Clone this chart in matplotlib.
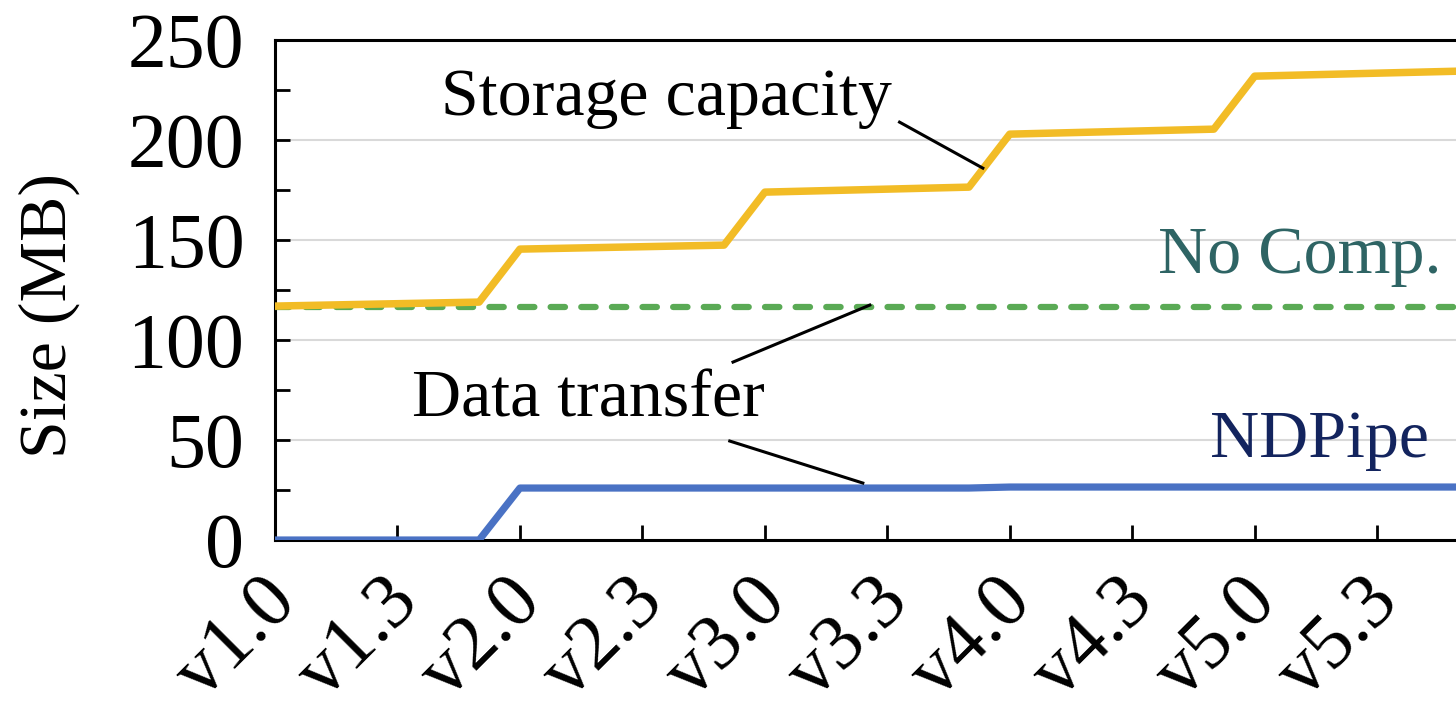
import numpy as np
import matplotlib
matplotlib.use("Agg")
import matplotlib.pyplot as plt
import matplotlib.transforms as mtransforms
from matplotlib.ticker import MultipleLocator

plt.rcParams['font.family'] = ['Liberation Serif', 'DejaVu Serif']

# versions v1.0 .. v5.5
versions = ['v%d.%d' % (m, n) for m in range(1, 6) for n in range(6)]

storage = [117, 117.4, 117.8, 118.2, 118.6, 119,
           145.5, 145.9, 146.3, 146.7, 147.1, 147.5,
           174, 174.5, 175, 175.5, 176, 176.5,
           203, 203.5, 204, 204.5, 205, 205.5,
           232, 232.5, 233, 233.5, 234, 234.5]
no_comp = [116.5] * 30
ndpipe = [0, 0, 0, 0, 0, 0,
          26, 26, 26, 26, 26, 26,
          26, 26, 26, 26, 26, 26,
          26.5, 26.5, 26.5, 26.5, 26.5, 26.5,
          26.5, 26.5, 26.5, 26.5, 26.5, 26.5]

x = np.arange(len(versions))
FS = 49
TFS = 56

fig = plt.figure(figsize=(14.56, 7.06), dpi=100)
ax = fig.add_axes([0.1889, 0.2351, 0.813, 0.708])

ax.plot(x, no_comp, color='#5AAA55', lw=4.5, ls=(0, (2.3, 2.6)), dash_capstyle='round', zorder=3)
ax.plot(x, storage, color='#F2BC26', lw=5.4, zorder=4)
ax.plot(x, ndpipe, color='#4A72C4', lw=5.2, zorder=4)

ax.set_xlim(0, 29)
ax.set_ylim(0, 250)
ax.yaxis.set_major_locator(MultipleLocator(50))
ax.yaxis.set_minor_locator(MultipleLocator(25))
ax.grid(axis='y', which='major', color='#D9D9D9', lw=1.5, zorder=0)

ax.set_xticks(x[::3])
ax.set_xticklabels(versions[::3], rotation=45, ha='right', va='top', rotation_mode='anchor')

ax.tick_params(axis='both', which='both', direction='in', length=11, width=2, labelsize=TFS)
ax.tick_params(axis='y', pad=22)
ax.tick_params(axis='x', pad=22)
for s in ax.spines.values():
    s.set_linewidth(2.2)

# nudge the rotated version labels to the left
shift = mtransforms.ScaledTranslation(-0.15, 0.05, fig.dpi_scale_trans)
for lab in ax.get_xticklabels():
    lab.set_transform(lab.get_transform() + shift)

ax.set_ylabel('Size (MB)', fontsize=FS)
ax.yaxis.set_label_coords(-0.165, 0.45)

# annotations
ax.text(9.58, 221, 'Storage capacity', fontsize=FS, ha='center', va='center')
ax.plot([15.3, 17.34], [209, 186], color='black', lw=2.2, zorder=5)
ax.text(7.67, 70, 'Data transfer', fontsize=FS, ha='center', va='center')
ax.plot([11.22, 14.57], [89, 117.5], color='black', lw=2.2, zorder=5)
ax.plot([11.14, 14.4], [49.5, 28.5], color='black', lw=2.2, zorder=5)
ax.text(25.1, 142, 'No Comp.', fontsize=FS, ha='center', va='center', color='#2E6464')
ax.text(25.6, 50, 'NDPipe', fontsize=FS, ha='center', va='center', color='#13245E')

fig.savefig('out.png', dpi=100)
